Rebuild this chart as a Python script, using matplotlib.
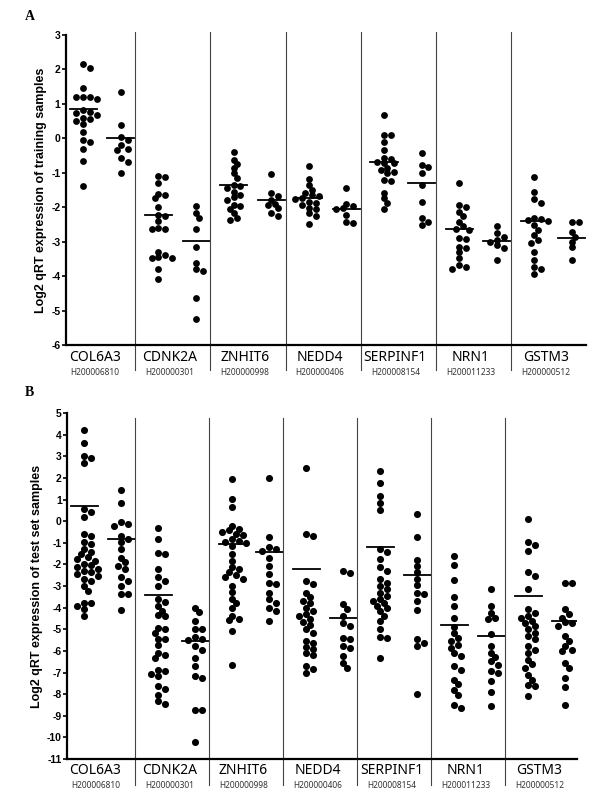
import numpy as np
import matplotlib as mpl
mpl.use('Agg')
import matplotlib.pyplot as plt

genes = ["COL6A3", "CDNK2A", "ZNHIT6", "NEDD4", "SERPINF1", "NRN1", "GSTM3"]
gene_ids = ["H200006810", "H200000301", "H200000998", "H200000406",
            "H200008154", "H200011233", "H200000512"]

# panel A: training samples (left group / right group per gene)
train_left = [
    [2.15, 2.04, 1.47, 1.21, 1.21, 1.21, 1.15, 0.82, 0.77, 0.72, 0.68, 0.6, 0.55, 0.5, 0.42, 0.19, -0.05, -0.1, -0.31, -0.66, -1.38],
    [-1.09, -1.11, -1.29, -1.62, -1.65, -1.74, -2.0, -2.23, -2.26, -2.4, -2.61, -2.64, -2.62, -3.29, -3.38, -3.44, -3.48, -3.48, -3.8, -4.09],
    [-0.4, -0.63, -0.75, -0.87, -1.02, -1.16, -1.36, -1.4, -1.45, -1.55, -1.65, -1.71, -1.79, -1.94, -1.98, -2.06, -2.18, -2.32, -2.37],
    [-0.8, -1.18, -1.36, -1.5, -1.6, -1.65, -1.69, -1.72, -1.76, -1.84, -1.89, -1.95, -2.03, -2.06, -2.18, -2.27, -2.5],
    [0.68, 0.08, 0.08, -0.1, -0.34, -0.58, -0.61, -0.68, -0.73, -0.73, -0.87, -0.92, -0.97, -1.02, -1.21, -1.24, -1.58, -1.74, -1.87, -2.06],
    [-1.29, -1.94, -2.0, -2.13, -2.27, -2.42, -2.56, -2.64, -2.66, -2.9, -2.93, -3.15, -3.17, -3.31, -3.48, -3.68, -3.73, -3.78],
    [-1.11, -1.55, -1.77, -1.87, -2.3, -2.35, -2.38, -2.4, -2.52, -2.66, -2.81, -2.95, -3.05, -3.29, -3.53, -3.73, -3.8, -3.94],
]
train_right = [
    [1.34, 0.39, 0.05, -0.05, -0.21, -0.31, -0.35, -0.58, -0.68, -1.02],
    [-1.98, -2.18, -2.32, -2.64, -3.15, -3.61, -3.8, -3.84, -4.63, -5.25],
    [-1.04, -1.58, -1.69, -1.79, -1.91, -1.94, -2.03, -2.18, -2.27],
    [-1.45, -1.91, -1.98, -2.03, -2.05, -2.23, -2.42, -2.45],
    [-0.42, -0.77, -0.82, -1.02, -1.36, -1.86, -2.32, -2.42, -2.52],
    [-2.55, -2.76, -2.86, -2.95, -3.0, -3.1, -3.17, -3.53],
    [-2.42, -2.42, -2.73, -2.86, -3.0, -3.15, -3.53],
]
train_left_line = [0.85, -2.23, -1.37, -1.74, -0.68, -2.63, -2.4]
train_right_line = [0.02, -2.98, -1.79, -2.05, -1.29, -2.97, -2.88]

# panel B: test set samples
test_left = [
    [4.22, 3.63, 3.01, 2.9, 2.67, 0.57, 0.42, 0.19, -0.59, -0.67, -0.98, -1.05, -1.29, -1.44, -1.52, -1.67, -1.75, -1.83, -1.98, -2.05, -2.14, -2.22, -2.29, -2.37, -2.45, -2.53, -2.68, -2.76, -2.99, -3.22, -3.77, -3.8, -3.92, -4.08, -4.39],
    [-0.33, -0.82, -1.47, -1.52, -2.19, -2.6, -2.76, -2.99, -3.61, -3.74, -3.92, -4.16, -4.36, -4.4, -4.95, -4.98, -5.16, -5.44, -5.47, -5.71, -6.09, -6.17, -6.33, -6.87, -6.95, -7.05, -7.15, -7.64, -7.77, -8.03, -8.34, -8.45],
    [1.97, 1.04, 0.65, -0.2, -0.36, -0.43, -0.5, -0.59, -0.64, -0.82, -0.9, -0.98, -1.0, -1.13, -1.52, -1.83, -2.14, -2.2, -2.37, -2.5, -2.6, -2.68, -2.99, -3.27, -3.61, -3.8, -4.0, -4.39, -4.54, -4.58, -5.09, -6.64],
    [2.47, -0.59, -0.67, -2.76, -2.91, -3.3, -3.53, -3.69, -3.8, -4.0, -4.16, -4.31, -4.4, -4.54, -4.67, -4.8, -5.01, -5.16, -5.55, -5.63, -5.81, -5.9, -6.09, -6.17, -6.71, -6.84, -7.02],
    [2.31, 1.78, 1.16, 0.85, 0.5, -1.29, -1.44, -1.75, -2.14, -2.29, -2.68, -2.85, -2.99, -3.15, -3.3, -3.46, -3.6, -3.69, -3.8, -3.92, -4.0, -4.16, -4.39, -4.62, -5.01, -5.35, -5.4, -6.33],
    [-1.63, -2.02, -2.71, -3.49, -3.92, -4.47, -4.9, -5.16, -5.4, -5.55, -5.71, -5.86, -6.09, -6.25, -6.71, -6.87, -7.33, -7.52, -7.8, -8.03, -8.5, -8.65],
    [0.08, -0.95, -1.1, -1.4, -2.37, -2.53, -3.15, -4.08, -4.23, -4.39, -4.47, -4.62, -4.7, -4.85, -5.01, -5.16, -5.32, -5.47, -5.78, -5.94, -6.09, -6.4, -6.62, -6.79, -7.1, -7.33, -7.57, -7.64, -8.08],
]
test_right = [
    [1.46, 0.84, -0.05, -0.12, -0.2, -0.67, -0.82, -0.98, -1.29, -1.72, -1.91, -2.06, -2.22, -2.6, -2.76, -2.99, -3.38, -3.38, -4.12],
    [-4.0, -4.19, -4.62, -4.98, -5.0, -5.35, -5.44, -5.5, -5.78, -5.94, -6.33, -6.71, -7.18, -7.26, -8.73, -8.73, -10.23],
    [2.0, -0.74, -1.21, -1.29, -1.36, -1.72, -2.06, -2.45, -2.84, -2.91, -3.3, -3.61, -3.77, -4.0, -4.16, -4.62],
    [-2.29, -2.4, -3.84, -4.08, -4.39, -4.73, -4.85, -5.4, -5.47, -5.78, -5.86, -6.22, -6.56, -6.79],
    [0.34, -0.74, -1.78, -2.06, -2.37, -2.68, -2.96, -3.3, -3.35, -3.69, -4.11, -5.47, -5.63, -5.78, -8.0],
    [-3.12, -3.92, -4.23, -4.47, -4.54, -5.24, -5.78, -6.09, -6.28, -6.48, -6.64, -6.95, -7.02, -7.41, -7.88, -8.54],
    [-2.84, -2.86, -4.08, -4.31, -4.47, -4.67, -4.7, -4.85, -5.32, -5.55, -5.78, -5.94, -6.0, -6.56, -6.79, -7.26, -7.67, -8.5],
]
test_left_line = [0.7, -3.43, -1.05, -2.22, -1.2, -4.78, -3.46]
test_right_line = [-0.82, -5.52, -1.44, -4.47, -2.5, -5.29, -4.6]


def swarm(vals, ppx, ppy, d):
    # simple beeswarm: offsets in data units so dots barely overlap
    vals = np.asarray(vals)
    offs = np.zeros(len(vals))
    placed = []
    step = d * 0.5
    cands = [0.0]
    for k in range(1, 15):
        cands += [k * step, -k * step]
    for i in np.argsort(-vals):
        y = vals[i] * ppy
        for c in cands:
            if all((c - px) ** 2 + (y - py) ** 2 >= (d * 0.75) ** 2 for px, py in placed):
                break
        placed.append((c, y))
        offs[i] = c / ppx
    return offs


def draw_panel(ax, left, right, lline, rline, ylim, xlim, ylabel, ms, sep_lo, sep_hi, lab_y, id_y):
    ax.set_xlim(*xlim)
    ax.set_ylim(*ylim)
    bb = ax.get_window_extent()
    ppx = bb.width / (xlim[1] - xlim[0])
    ppy = bb.height / (ylim[1] - ylim[0])
    d = ms * 100 / 72.0
    for i in range(len(genes)):
        for vals, line, cx in [(left[i], lline[i], i + 0.31), (right[i], rline[i], i + 0.81)]:
            xs = cx + swarm(vals, ppx, ppy, d)
            ax.plot(xs, vals, 'o', color='black', ms=ms, mew=0, clip_on=False)
            ax.plot([cx - 0.18, cx + 0.18], [line, line], color='black', lw=1.3)
        if i > 0:
            ax.axvline(i, ymin=sep_lo, ymax=sep_hi, color='#444444', lw=0.8, clip_on=False)
        ax.text(i + 0.46, lab_y, genes[i], transform=ax.get_xaxis_transform(),
                ha='center', va='center', fontsize=10, family='Noto Sans')
        ax.text(i + 0.46, id_y, gene_ids[i], transform=ax.get_xaxis_transform(),
                ha='center', va='center', fontsize=6, family='Noto Sans', color='#333333')
    ticks = np.arange(ylim[0], ylim[1] + 1, 1)
    ax.set_yticks(ticks)
    ax.set_yticklabels([str(int(t)) for t in ticks],
                       fontsize=7.5, fontweight='bold', family='Liberation Sans')
    ax.set_xticks([])
    for s in ['top', 'right']:
        ax.spines[s].set_visible(False)
    ax.spines['left'].set_linewidth(1.6)
    ax.spines['bottom'].set_linewidth(1.6)
    ax.tick_params(axis='y', length=3, width=1.2, pad=1)
    ax.set_ylabel(ylabel, fontsize=9, fontweight='bold', family='Liberation Sans', labelpad=3)


fig = plt.figure(figsize=(6, 8.1), dpi=100)
axA = fig.add_axes([0.11, 0.574, 0.867, 0.383])
axB = fig.add_axes([0.112, 0.063, 0.85, 0.427])

draw_panel(axA, train_left, train_right, train_left_line, train_right_line,
           (-6, 3), (0.08, 7.0), "Log2 qRT expression of training samples", 4.9,
           -0.081, 1.01, -0.04, -0.09)
draw_panel(axB, test_left, test_right, test_left_line, test_right_line,
           (-11, 5), (0.08, 6.97), "Log2 qRT expression of test set samples", 5.1,
           -0.075, 0.985, -0.033, -0.076)

fig.text(25 / 600, 1 - 17 / 810, "A", fontsize=10, fontweight='bold', family='Liberation Serif', va='center')
fig.text(25 / 600, 1 - 392 / 810, "B", fontsize=10, fontweight='bold', family='Liberation Serif', va='center')

plt.savefig("out.png", dpi=100)
plt.close(fig)
